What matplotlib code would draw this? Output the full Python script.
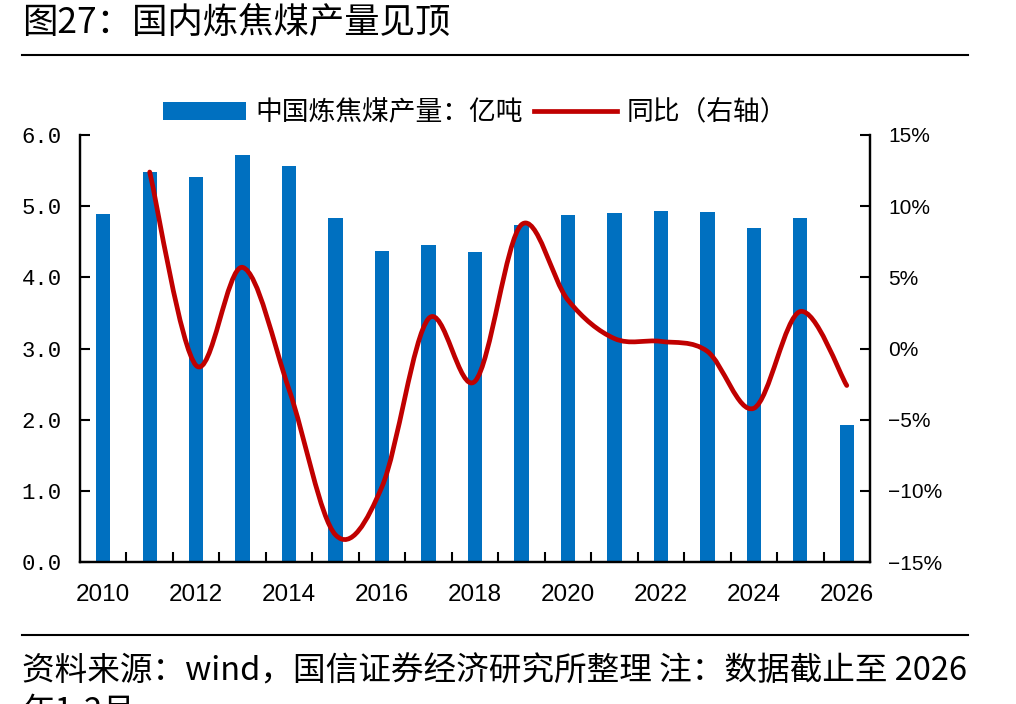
import numpy as np
import matplotlib
matplotlib.use('Agg')
import matplotlib.pyplot as plt
from matplotlib.path import Path
from matplotlib.patches import PathPatch, Patch
from matplotlib.lines import Line2D
from matplotlib.ticker import FixedLocator, FuncFormatter

plt.rcParams['font.family'] = ['Noto Sans CJK SC', 'DejaVu Sans']

# data
years = list(range(2010, 2027))
output = [4.89, 5.48, 5.41, 5.72, 5.56, 4.83, 4.37, 4.46, 4.35, 4.73,
          4.87, 4.90, 4.93, 4.92, 4.69, 4.83, 1.93]  # 亿吨
yoy_years = list(range(2011, 2027))
yoy = [12.4, -1.2, 5.7, -2.9, -13.1, -9.7, 2.1, -2.3, 8.7, 3.4,
       0.7, 0.5, -0.2, -4.2, 2.6, -2.6]  # %

BLUE = '#0070C0'
RED = '#C00000'


def smooth_path(xs, ys):
    """Excel-style smoothed line as a cubic bezier path through the points."""
    pts = np.column_stack([xs, ys]).astype(float)
    n = len(pts)
    verts = [pts[0]]
    codes = [Path.MOVETO]
    for i in range(n - 1):
        p0 = pts[i - 1] if i > 0 else pts[i]
        p1 = pts[i]
        p2 = pts[i + 1]
        p3 = pts[i + 2] if i + 2 < n else pts[i + 1]
        c1 = p1 + (p2 - p0) / 6.0
        c2 = p2 - (p3 - p1) / 6.0
        verts += [c1, c2, p2]
        codes += [Path.CURVE4] * 3
    return Path(verts, codes)


fig = plt.figure(figsize=(10.16, 7.04), dpi=100)
ax = fig.add_axes([80 / 1016, 1 - 562 / 704, 790 / 1016, 427 / 704])
ax2 = ax.twinx()

xpos = np.arange(len(years))
ax.bar(xpos, output, width=0.31, color=BLUE, zorder=2)
ax.set_xlim(-0.5, len(years) - 0.5)
ax.set_ylim(0, 6)
ax.set_yticks(np.arange(0, 6.01, 1.0))
ax.set_yticklabels([f'{v:.1f}' for v in np.arange(0, 6.01, 1.0)],
                   family='Liberation Mono', fontsize=16)

# year labels every two years at bar centres, tick marks between bars
ax.set_xticks(xpos[::2])
ax.set_xticklabels([str(y) for y in years[::2]], family='Liberation Sans', fontsize=17.5)
ax.tick_params(axis='x', which='major', length=0, pad=16)
ax.xaxis.set_minor_locator(FixedLocator(np.arange(0.5, len(years) - 1, 1.0)))
ax.tick_params(axis='x', which='minor', direction='in', length=7, width=1.5)
ax.tick_params(axis='y', direction='in', length=7, width=1.5, pad=13)

yx = [years.index(y) for y in yoy_years]
ax2.add_patch(PathPatch(smooth_path(yx, yoy), fill=False, edgecolor=RED,
                        lw=3.4, capstyle='round', joinstyle='round', zorder=3))
ax2.set_ylim(-15, 15)
ax2.set_yticks(np.arange(-15, 16, 5))
ax2.yaxis.set_major_formatter(FuncFormatter(
    lambda v, _: f'{int(v)}%'.replace('-', '\u2212')))
for lab in ax2.get_yticklabels():
    lab.set_family('Liberation Sans')
    lab.set_fontsize(15)
ax2.tick_params(axis='y', direction='in', length=7, width=1.5, pad=13)

for a in (ax, ax2):
    a.spines['top'].set_visible(False)
    for s in ('left', 'right', 'bottom'):
        a.spines[s].set_linewidth(1.6)

handles = [Patch(facecolor=BLUE, edgecolor='none'),
           Line2D([], [], color=RED, lw=3.4)]
fig.legend(handles, ['中国炼焦煤产量：亿吨', '同比（右轴）'],
           loc='center', bbox_to_anchor=(475 / 1016, 1 - 113 / 704), ncol=2,
           frameon=False, fontsize=19.3, handlelength=3.1, handleheight=0.67,
           handletextpad=0.35, columnspacing=0.4)

fig.text(22 / 1016, 1 - 23 / 704, '图27：国内炼焦煤产量见顶', fontsize=25.5,
         ha='left', va='center')
fig.add_artist(Line2D([22 / 1016, 968 / 1016], [1 - 55 / 704] * 2,
                      color='black', lw=1.5))
fig.add_artist(Line2D([22 / 1016, 968 / 1016], [1 - 635 / 704] * 2,
                      color='black', lw=1.5))
fig.text(22 / 1016, 1 - 656 / 704,
         '资料来源：wind，国信证券经济研究所整理 注：数据截止至 2026\n年1-2月',
         fontsize=23.5, ha='left', va='top', linespacing=1.3)

fig.savefig('out.png', dpi=100)
